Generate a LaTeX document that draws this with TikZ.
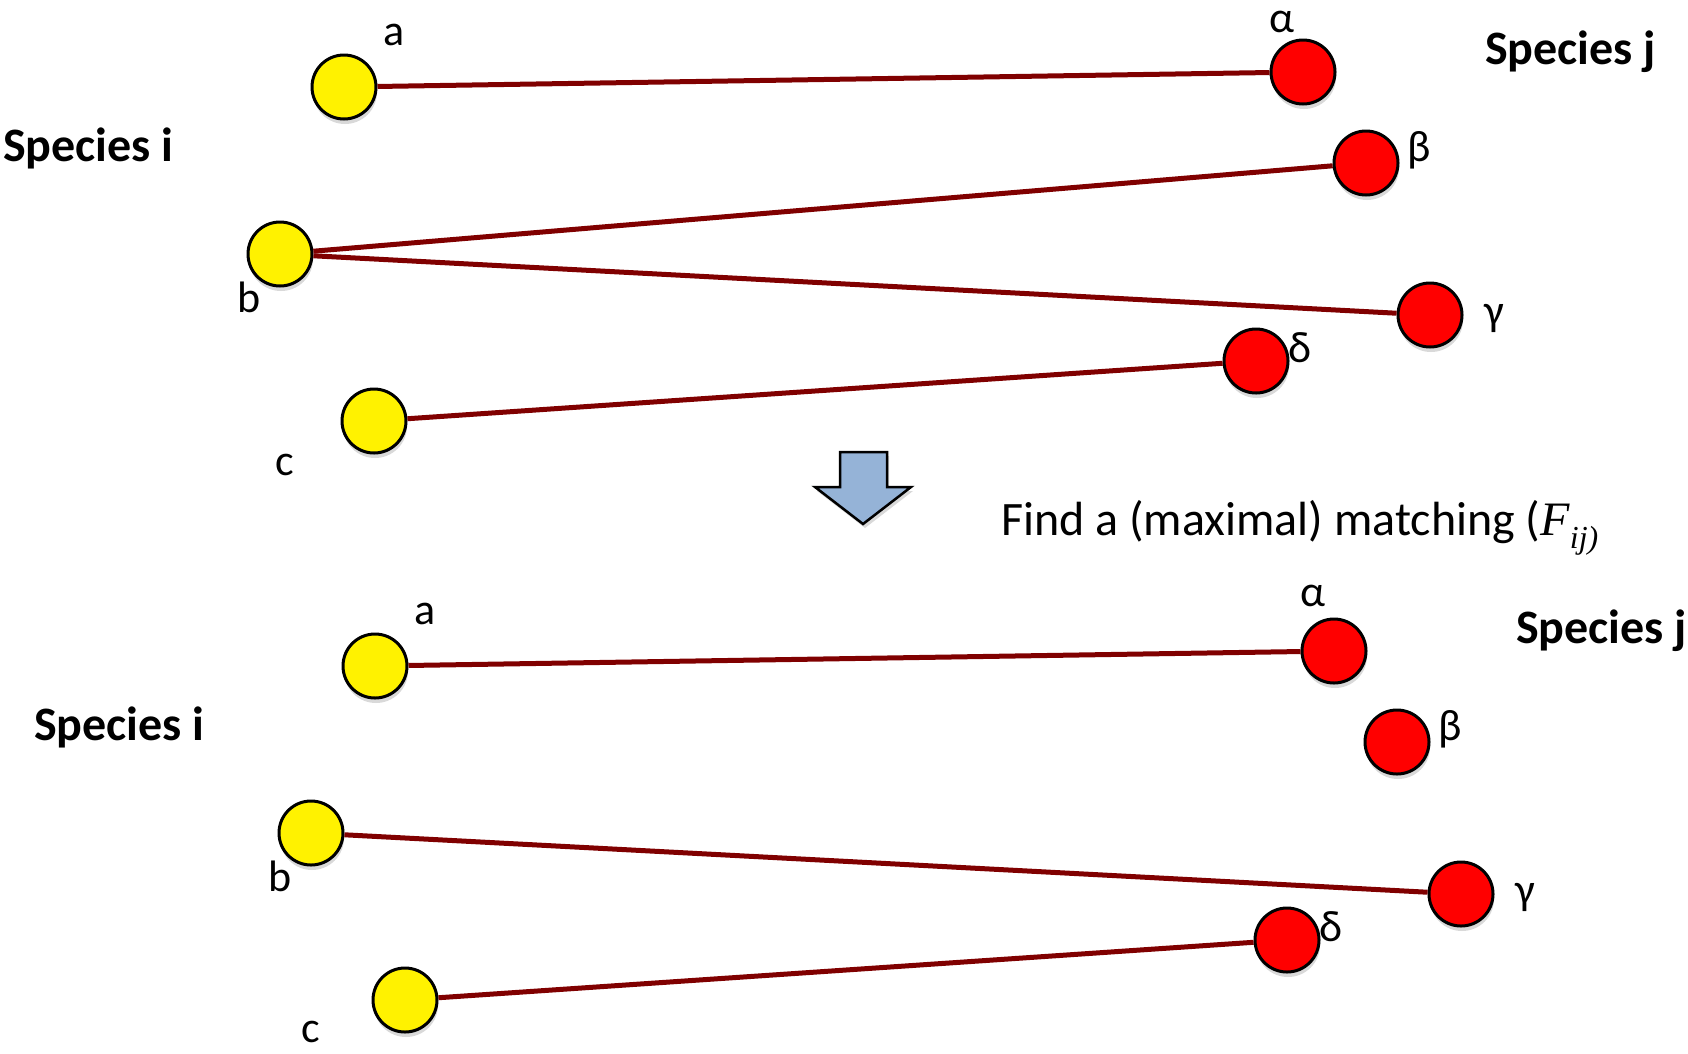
\documentclass[tikz,border=0pt]{standalone}
\usepackage{fontspec}
\setmainfont{Carlito}
\newfontfamily\tms{Liberation Serif}
\usetikzlibrary{shadows}
\definecolor{edgecol}{HTML}{800000}
\definecolor{arrowfill}{HTML}{95B3D7}
\begin{document}
\begin{tikzpicture}[x=1pt,y=-1pt,
  vy/.style={circle,draw=black,line width=3pt,fill=yellow,minimum size=64pt,inner sep=0pt,
    drop shadow={opacity=0.3,shadow xshift=1pt,shadow yshift=-5pt}},
  vr/.style={vy,fill=red},
  lbl/.style={font=\fontsize{44}{44}\selectfont,inner sep=0pt},
  spc/.style={font=\fontsize{48}{48}\selectfont\bfseries,inner sep=0pt,anchor=west},
  edgeline/.style={draw=edgecol,line width=5pt}]
\path[use as bounding box] (0,0) rectangle (1688,1053);
% ---------- top graph ----------
\node[vy] (aT) at (344,87) {};
\node[vr] (alT) at (1303,72) {};
\node[vr] (beT) at (1366,163) {};
\node[vy] (bT) at (280,254) {};
\node[vr] (gaT) at (1430,315) {};
\node[vr] (deT) at (1256,361) {};
\node[vy] (cT) at (374,421) {};
\draw[edgeline] (aT) -- (alT);
\draw[edgeline] (bT) -- (beT);
\draw[edgeline] (bT) -- (gaT);
\draw[edgeline] (cT) -- (deT);
\node[lbl] (laT) at (394,35) {a};
\node[lbl] (lalT) at (1282,22) {α};
\node[lbl] (lbeT) at (1419,150) {β};
\node[lbl] (lbT) at (249,297) {b};
\node[lbl] (lgaT) at (1494,318) {γ};
\node[lbl] (ldeT) at (1300,348) {δ};
\node[lbl] (lcT) at (285,465) {c};
\node[spc] (siT) at (3,148) {Species i};
\node[spc] (sjT) at (1485,52) {Species j};
% ---------- arrow ----------
\draw[line width=2.5pt,fill=arrowfill,line join=miter,
  drop shadow={opacity=0.3,shadow xshift=2pt,shadow yshift=-4pt}]
  (840,452) -- (887,452) -- (887,487) -- (911,487) -- (863,524) -- (815,487) -- (840,487) -- cycle;
\node[font=\fontsize{48}{48}\selectfont,inner sep=0pt,anchor=base west] (find) at (1001,535)
  {Find a (maximal) matching ({\tms\itshape F\raisebox{-0.28em}{\fontsize{32}{32}\selectfont ij)}}};
% ---------- bottom graph ----------
\node[vy] (aB) at (375,666) {};
\node[vr] (alB) at (1334,651) {};
\node[vr] (beB) at (1397,742) {};
\node[vy] (bB) at (311,833) {};
\node[vr] (gaB) at (1461,894) {};
\node[vr] (deB) at (1287,940) {};
\node[vy] (cB) at (405,1000) {};
\draw[edgeline] (aB) -- (alB);
\draw[edgeline] (bB) -- (gaB);
\draw[edgeline] (cB) -- (deB);
\node[lbl] (laB) at (425,614) {a};
\node[lbl] (lalB) at (1313,596) {α};
\node[lbl] (lbeB) at (1450,729) {β};
\node[lbl] (lbB) at (280,876) {b};
\node[lbl] (lgaB) at (1525,897) {γ};
\node[lbl] (ldeB) at (1331,927) {δ};
\node[lbl] (lcB) at (311,1032) {c};
\node[spc] (siB) at (34,727) {Species i};
\node[spc] (sjB) at (1516,631) {Species j};
\end{tikzpicture}
\end{document}
